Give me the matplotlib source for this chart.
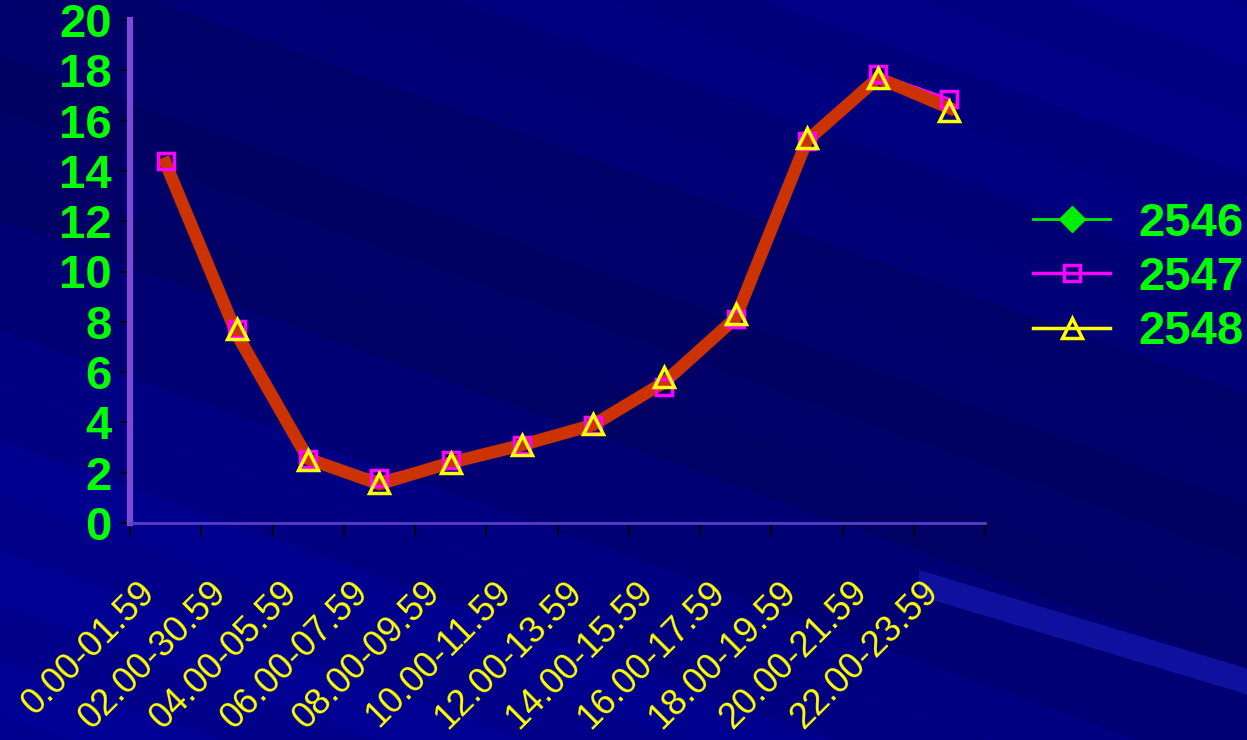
import numpy as np
import matplotlib
matplotlib.use("Agg")
import matplotlib.pyplot as plt
from matplotlib.lines import Line2D
from matplotlib import transforms

# ---------------- data ----------------
categories = ["0.00-01.59", "02.00-30.59", "04.00-05.59", "06.00-07.59",
              "08.00-09.59", "10.00-11.59", "12.00-13.59", "14.00-15.59",
              "16.00-17.59", "18.00-19.59", "20.00-21.59", "22.00-23.59"]
s2546 = [14.3, 7.5, 2.55, 1.55, 2.4, 3.1, 3.9, 5.6, 8.15, 15.2, 17.7, 16.5]
s2547 = [14.4, 7.7, 2.55, 1.8, 2.5, 3.1, 3.9, 5.4, 8.1, 15.2, 17.85, 16.85]
s2548 = [np.nan, 7.7, 2.5, 1.6, 2.4, 3.1, 3.95, 5.8, 8.3, 15.3, 17.7, 16.4]
series_names = ["2546", "2547", "2548"]
yticks = list(range(0, 21, 2))

W, H = 1247, 740
fig = plt.figure(figsize=(W / 100, H / 100), dpi=100)

# ---------------- background (decorative gradient) ----------------
bg = fig.add_axes([0, 0, 1, 1])
bg.axis("off")
yy, xx = np.mgrid[0:H, 0:W].astype(float)
t = yy - 0.36 * xx
band_w = 55.0
tq = np.floor(t / band_w) * band_w + band_w / 2
base = np.interp(tq, [-450, -250, -100, 0, 150, 300, 450, 700],
                 [0x8a, 0x82, 0x76, 0x6a, 0x64, 0x78, 0x8a, 0x92])
alt = np.where((np.floor(t / band_w) % 2) == 0, 4, -4)
blue = base + alt
# subtle light streak lower right
u = yy - 0.30 * xx
streak = (u > 294) & (u < 320) & (xx > 918)
blue[streak] = 0x9e
red = np.where(streak, 0x10, 0)
img = np.dstack([red / 255, red / 255, np.clip(blue, 0, 255) / 255])
bg.imshow(img, extent=[0, 1, 0, 1], aspect="auto", origin="upper")
bg.set_xlim(0, 1)
bg.set_ylim(0, 1)

# ---------------- main axes ----------------
L, R, T, B = 130, 985, 20, 523
ax = fig.add_axes([L / W, 1 - B / H, (R - L) / W, (B - T) / H])
ax.patch.set_alpha(0)
n = len(categories)
x = np.arange(n) + 0.5
ax.set_xlim(0, n)
ax.set_ylim(0, 20)

for s in ["top", "right"]:
    ax.spines[s].set_visible(False)
ax.spines["left"].set_color("#7d4ad6")
ax.spines["left"].set_linewidth(4.5)
ax.spines["bottom"].set_color("#5a3cc8")
ax.spines["bottom"].set_linewidth(2)

ax.set_yticks(yticks)
ax.set_yticklabels([str(v) for v in yticks], color="#00ff00",
                   fontsize=34, fontweight="bold", family="Liberation Sans")
ax.tick_params(axis="y", direction="out", length=7, width=1.3, color="black", pad=6)
ax.set_xticks(np.arange(n + 1))
ax.set_xticklabels([])
ax.tick_params(axis="x", direction="out", length=9, width=1.3, color="black")

# series lines (thin, underneath)
ax.plot(x, s2547, color="#ff00ff", lw=2, zorder=2)
ax.plot(x, s2548, color="#ffff00", lw=2, zorder=2)
# thick orange line (2546)
ax.plot(x, s2546, color="#cc3300", lw=9, solid_joinstyle="miter", zorder=3)
# markers
ax.plot(x, s2547, ls="none", marker="s", ms=12, mfc="none", mec="#ff00ff", mew=2.5, zorder=4)
ax.plot(x, s2548, ls="none", marker="^", ms=14, mfc="none", mec="#ffff00", mew=2.5, zorder=5)

# x category labels (rotated)
trans = transforms.blended_transform_factory(ax.transData, ax.transAxes) + \
    transforms.ScaledTranslation(-16 / 100, -64 / 100, fig.dpi_scale_trans)
for xi, lab in zip(x, categories):
    ax.text(xi, 0, lab, transform=trans, rotation=45, rotation_mode="anchor",
            ha="right", va="center", color="#ffff00", fontsize=26,
            family="Liberation Sans", clip_on=False)

# legend
handles = [
    Line2D([], [], color="#00ee00", lw=2, marker="D", ms=13, mfc="#00ee00", mec="#00ee00"),
    Line2D([], [], color="#ff00ff", lw=2.5, marker="s", ms=12, mfc="none", mec="#ff00ff", mew=2.5),
    Line2D([], [], color="#ffff00", lw=2.5, marker="^", ms=14, mfc="none", mec="#ffff00", mew=2.5),
]
leg = fig.legend(handles, series_names, loc="center left",
                 bbox_to_anchor=(1033 / W, 1 - 278 / H), bbox_transform=fig.transFigure,
                 frameon=False, borderpad=0, borderaxespad=0, handlelength=1.64,
                 handletextpad=0.6, labelspacing=0.22,
                 prop={"family": "Liberation Sans", "weight": "bold", "size": 34})
for txt in leg.get_texts():
    txt.set_color("#00ff00")

fig.savefig("out.png", dpi=100)
